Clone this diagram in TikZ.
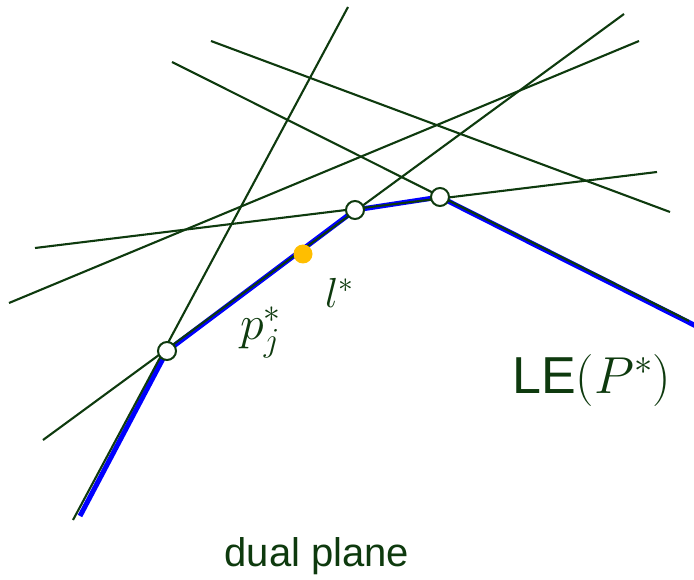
\RequirePackage{fix-cm}
\documentclass[tikz,border=0pt]{standalone}
\usepackage{fontspec}
\setsansfont{Liberation Sans}
\definecolor{dgreen}{RGB}{14,58,14}
\definecolor{envblue}{RGB}{0,0,255}
\definecolor{dotorange}{RGB}{255,190,0}
\begin{document}
\begin{tikzpicture}[x=1pt,y=-1pt,
  dualline/.style={draw=dgreen,line width=2.1pt},
  envelope/.style={draw=envblue,line width=5pt,line join=round},
  vertex/.style={circle,draw=dgreen,fill=white,line width=2pt,minimum size=18pt,inner sep=0pt},
  pointdot/.style={circle,fill=dotorange,minimum size=19pt,inner sep=0pt},
  mathlabel/.style={text=dgreen,inner sep=0pt,anchor=base west},
  sflabel/.style={text=dgreen,inner sep=0pt,font=\sffamily}]
\useasboundingbox (0,0) rectangle (694,580);
% vertices
\coordinate (v1) at (167,351);
\coordinate (v2) at (355,210);
\coordinate (v3) at (440,197);
% line end points
\coordinate (a1) at (73,520);  \coordinate (b1) at (348,7);
\coordinate (a2) at (43,440);  \coordinate (b2) at (624,14);
\coordinate (a3) at (35,248);  \coordinate (b3) at (657,172);
\coordinate (a4) at (9,303);   \coordinate (b4) at (639,41);
\coordinate (a5) at (211,41);  \coordinate (b5) at (670,212);
\coordinate (a6) at (172,62);  \coordinate (b6) at (689,321);
\coordinate (e0) at (80,516);  \coordinate (e4) at (700,328);
% lower envelope
\draw[envelope,shift={(1.5,1.5)}] (e0) -- (v1) -- (v2) -- (v3) -- (e4);
% dual lines
\draw[dualline] (a1) -- (b1);
\draw[dualline] (a2) -- (b2);
\draw[dualline] (a3) -- (b3);
\draw[dualline] (a4) -- (b4);
\draw[dualline] (a5) -- (b5);
\draw[dualline] (a6) -- (b6);
% vertices
\node[vertex] (n1) at (v1) {};
\node[vertex] (n2) at (v2) {};
\node[vertex] (n3) at (v3) {};
% point on envelope
\node[pointdot] (pj) at (303,254) {};
% labels
\node[mathlabel,font=\fontsize{48}{48}\selectfont] (lpj) at (240,340) {$p_j^*$};
\node[mathlabel,font=\fontsize{42}{42}\selectfont] (ll) at (325,308) {$l^*$};
\node[mathlabel,font=\fontsize{52}{52}\selectfont] (lle) at (512,393) {\sffamily LE$(P^*)$};
\node[sflabel,font=\sffamily\fontsize{40}{40}\selectfont,anchor=base] (ldual) at (317,566) {dual plane};
\end{tikzpicture}
\end{document}
